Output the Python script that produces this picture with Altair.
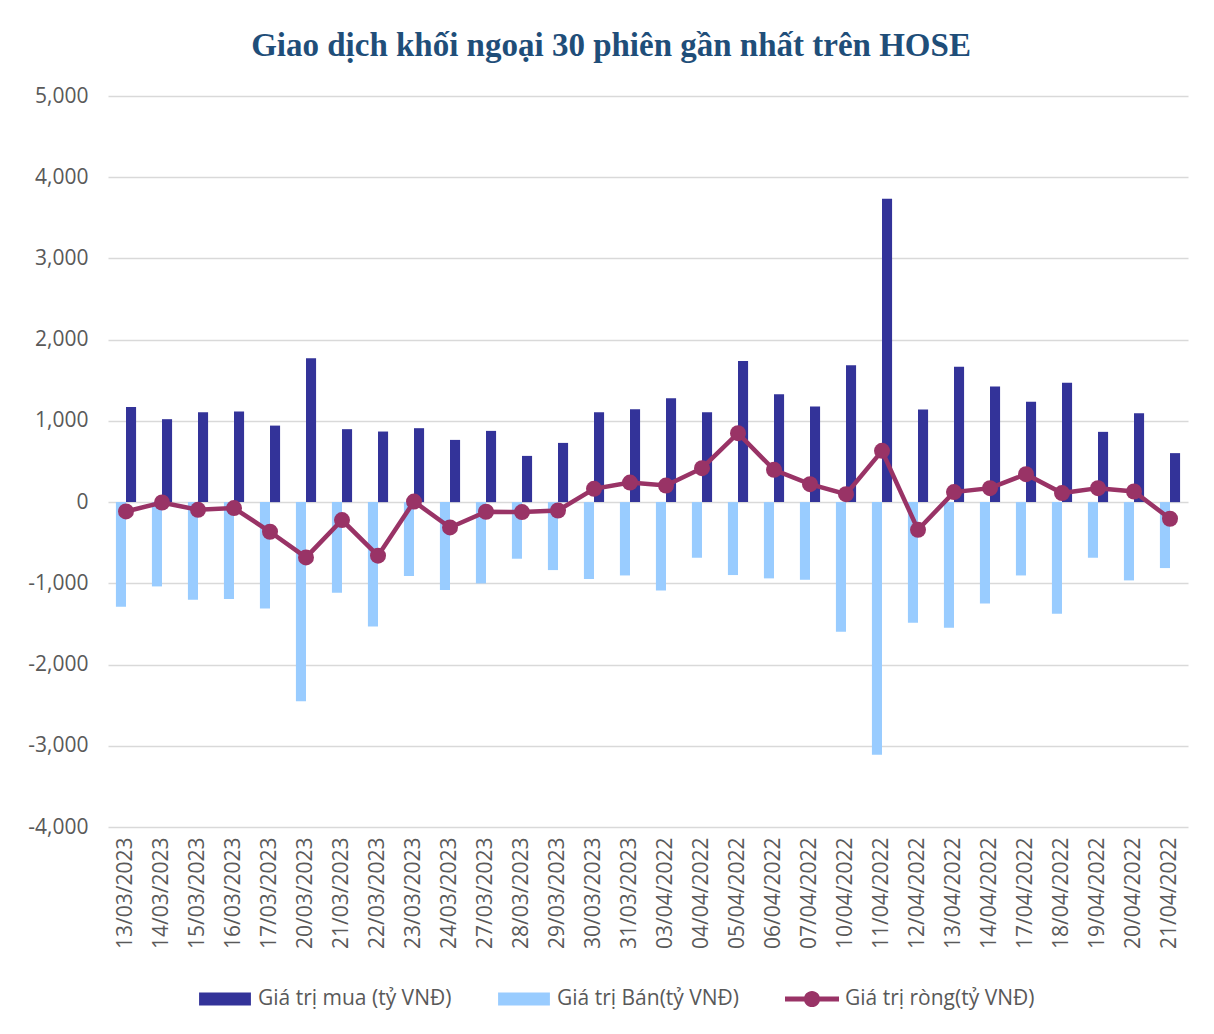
import altair as alt
import pandas as pd

dates = ["13/03/2023", "14/03/2023", "15/03/2023", "16/03/2023", "17/03/2023",
         "20/03/2023", "21/03/2023", "22/03/2023", "23/03/2023", "24/03/2023",
         "27/03/2023", "28/03/2023", "29/03/2023", "30/03/2023", "31/03/2023",
         "03/04/2022", "04/04/2022", "05/04/2022", "06/04/2022", "07/04/2022",
         "10/04/2022", "11/04/2022", "12/04/2022", "13/04/2022", "14/04/2022",
         "17/04/2022", "18/04/2022", "19/04/2022", "20/04/2022", "21/04/2022"]

buy = [1172, 1021, 1107, 1115, 942, 1771, 898, 869, 910, 766,
       877, 569, 729, 1107, 1144, 1279, 1107, 1738, 1328, 1176,
       1685, 3734, 1139, 1668, 1422, 1237, 1471, 865, 1095, 603]

sell = [-1288, -1038, -1202, -1193, -1309, -2452, -1116, -1530, -910, -1082,
        -1001, -697, -837, -947, -903, -1087, -685, -898, -939, -956,
        -1595, -3112, -1485, -1546, -1247, -903, -1374, -685, -964, -812]

net = [-115, -5, -95, -74, -365, -681, -221, -660, 7, -312,
       -119, -123, -103, 164, 240, 204, 418, 849, 397, 221,
       98, 631, -341, 123, 172, 344, 111, 172, 131, -205]

S_BUY = "Giá trị mua (tỷ VNĐ)"
S_SELL = "Giá trị Bán(tỷ VNĐ)"
S_NET = "Giá trị ròng(tỷ VNĐ)"
series_names = [S_BUY, S_SELL, S_NET]
series_colors = ["#333399", "#99CCFF", "#993366"]

bar_df = pd.DataFrame({
    "date": dates + dates,
    "series": [S_BUY] * len(dates) + [S_SELL] * len(dates),
    "value": buy + sell,
})
net_df = pd.DataFrame({"date": dates, "value": net, "series": [S_NET] * len(dates)})

FONT = "Open Sans"
GRAY = "#595959"

rect_path = "M-0.96,-0.24 H0.96 V0.24 H-0.96 Z"
line_path = ("M-1,-0.09 H1 V0.09 H-1 Z "
             "M-0.3,0 A0.3,0.3 0 1,1 0.3,0 A0.3,0.3 0 1,1 -0.3,0 Z")

x_enc = alt.X(
    "date:N", sort=dates,
    scale=alt.Scale(paddingInner=0.44, paddingOuter=0.22),
    axis=alt.Axis(title=None, labelAngle=-90, labelAlign="right", labelBaseline="middle",
                  labelPadding=10, ticks=False, domain=False, grid=False,
                  labelFont=FONT, labelFontSize=21, labelColor=GRAY),
)
y_enc = alt.Y(
    "value:Q",
    scale=alt.Scale(domain=[-4000, 5000], nice=False, zero=False),
    axis=alt.Axis(title=None, values=list(range(-4000, 5001, 1000)),
                  labelExpr="replace(format(datum.value, ',.0f'), '\u2212', '-')",
                  ticks=False, domain=False, labelPadding=20,
                  labelFont=FONT, labelFontSize=21, labelColor=GRAY,
                  gridColor="#d9d9d9", gridWidth=1.3),
)

color_scale = alt.Scale(domain=series_names, range=series_colors)

bars = alt.Chart(bar_df).mark_bar().encode(
    x=x_enc,
    y=y_enc,
    xOffset=alt.XOffset("series:N", sort=[S_SELL, S_BUY],
                        scale=alt.Scale(paddingInner=0, paddingOuter=0)),
    color=alt.Color("series:N", scale=color_scale, title=None),
)

line = alt.Chart(net_df).mark_line(color="#993366", strokeWidth=4.5).encode(
    x=alt.X("date:N", sort=dates),
    y=alt.Y("value:Q"),
)

points = alt.Chart(net_df).mark_point(filled=True, color="#993366", size=256, opacity=1).encode(
    x=alt.X("date:N", sort=dates),
    y=alt.Y("value:Q"),
)

legend_helper = alt.Chart(net_df).transform_filter("false").mark_point(
    filled=True, opacity=1
).encode(
    x=alt.X("date:N", sort=dates),
    y=alt.Y("value:Q"),
    color=alt.Color("series:N", scale=color_scale, title=None),
    shape=alt.Shape("series:N", scale=alt.Scale(domain=series_names,
                                                range=[rect_path, rect_path, line_path]),
                    title=None),
)

chart = alt.layer(bars, line, points, legend_helper).properties(
    width=1080,
    height=731,
    title=alt.Title(
        "Giao dịch khối ngoại 30 phiên gần nhất trên HOSE",
        font="Liberation Serif", fontSize=33, fontWeight="bold", color="#1F4E79",
        anchor="middle", offset=22, dx=-37,
    ),
    padding={"left": 100, "top": 88, "right": 18, "bottom": 200},
    autosize=alt.AutoSizeParams(type="none"),
    background="white",
).configure_view(stroke=None).configure_legend(
    orient="none", legendX=90, legendY=876, direction="horizontal", title=None,
    labelFont=FONT, labelFontSize=21, labelColor=GRAY,
    symbolSize=2916, symbolStrokeWidth=0, labelOffset=6, columnPadding=45,
    labelLimit=400,
)

chart.save("out.html", embed_options={"renderer": "svg", "actions": False})
